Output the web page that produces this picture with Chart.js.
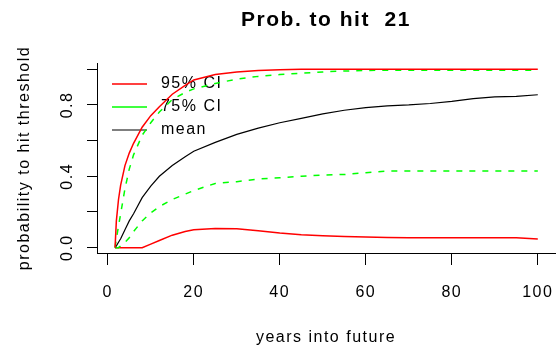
<!DOCTYPE html>
<html>
<head>
<meta charset="utf-8">
<script src="https://cdn.jsdelivr.net/npm/chart.js@4/dist/chart.umd.min.js"></script>
<style>
  html, body { margin: 0; padding: 0; background: #fff; }
  #wrap { width: 558px; height: 352px; position: relative; }
</style>
</head>
<body>
<div id="wrap"><canvas id="probChart"></canvas></div>
<script>
// years into the future (x) and the curves
const years = [1.7, 2, 2.5, 3, 4, 5, 6, 8, 10, 12, 15, 18, 20, 25, 30, 35, 40, 45, 50, 55, 60, 65, 70, 75, 80, 85, 90, 95, 100];

const upper95 = [0, 0.15, 0.27, 0.35, 0.46, 0.53, 0.585, 0.675, 0.74, 0.79, 0.86, 0.91, 0.94, 0.97, 0.985, 0.993, 0.997, 1, 1, 1, 1, 1, 1, 1, 1, 1, 1, 1, 1];
const upper75 = [0, 0.05, 0.12, 0.19, 0.33, 0.44, 0.52, 0.63, 0.70, 0.76, 0.83, 0.87, 0.89, 0.92, 0.945, 0.96, 0.97, 0.978, 0.985, 0.99, 0.993, 0.995, 0.995, 0.995, 0.995, 0.995, 0.995, 0.995, 0.995];
const meanProb = [0, 0.01, 0.03, 0.05, 0.1, 0.15, 0.19, 0.28, 0.345, 0.40, 0.46, 0.51, 0.54, 0.59, 0.635, 0.67, 0.70, 0.725, 0.75, 0.77, 0.785, 0.795, 0.80, 0.808, 0.82, 0.835, 0.845, 0.848, 0.857];
const lower75 = [0, 0, 0, 0.01, 0.03, 0.055, 0.09, 0.15, 0.195, 0.23, 0.27, 0.30, 0.32, 0.36, 0.37, 0.385, 0.392, 0.40, 0.407, 0.41, 0.42, 0.43, 0.43, 0.43, 0.43, 0.43, 0.43, 0.43, 0.43];
const lower95 = [0, 0, 0, 0, 0, 0, 0, 0, 0.02, 0.04, 0.07, 0.09, 0.10, 0.108, 0.106, 0.095, 0.082, 0.072, 0.067, 0.063, 0.06, 0.057, 0.056, 0.056, 0.056, 0.056, 0.056, 0.056, 0.049];

const xTicks = [0, 20, 40, 60, 80, 100];
const yTicks = [0, 0.2, 0.4, 0.6, 0.8, 1.0];
const yLabelled = [0, 0.4, 0.8];   // R only printed every other label

const pts = (ys) => years.map((x, i) => ({ x: x, y: ys[i] }));

const FONT = "'Liberation Sans', Arial, sans-serif";

// R draws its text a bit spread out
const spacing = {
  id: "spacing",
  beforeLayout(chart) { chart.ctx.letterSpacing = "1.5px"; },
  beforeDraw(chart) { chart.ctx.letterSpacing = "1.5px"; },
  afterLayout(chart) {
    // put legend near top-left corner of the plot like legend("topleft")
    const a = chart.chartArea;
    chart.legend.left = a.left + 8;
    chart.legend.top = a.top + 6;
  }
};

const ctx = document.getElementById("probChart").getContext("2d");

new Chart(ctx, {
  type: "line",
  data: {
    datasets: [
      { label: "95% CI", data: pts(upper95), borderColor: "#ff0000", borderWidth: 1.5, inLegend: true },
      { label: "75% CI", data: pts(upper75), borderColor: "#00ff00", borderWidth: 1.5, borderDash: [6, 7], inLegend: true },
      { label: "mean", data: pts(meanProb), borderColor: "#000000", borderWidth: 1.2, inLegend: true },
      { label: "75% CI low", data: pts(lower75), borderColor: "#00ff00", borderWidth: 1.5, borderDash: [6, 7] },
      { label: "95% CI low", data: pts(lower95), borderColor: "#ff0000", borderWidth: 1.5 }
    ]
  },
  options: {
    responsive: true,
    maintainAspectRatio: false,
    animation: false,
    layout: { padding: { left: 0, right: 3, top: 0, bottom: 0 } },
    elements: { point: { radius: 0 }, line: { tension: 0, fill: false } },
    plugins: {
      tooltip: { enabled: false },
      title: {
        display: true,
        text: "Prob. to hit  21",
        fullSize: false,
        color: "#000",
        font: { family: FONT, size: 21, weight: "bold" },
        padding: { top: 7.4, bottom: 30.4 }
      },
      legend: {
        position: "chartArea",
        fullSize: false,
        align: "start",
        labels: {
          usePointStyle: true,
          pointStyle: "line",
          pointStyleWidth: 35,
          padding: 7,
          color: "#000",
          font: { family: FONT, size: 16 },
          filter: (item, data) => data.datasets[item.datasetIndex].inLegend === true,
          generateLabels(chart) {
            const items = Chart.defaults.plugins.legend.labels.generateLabels(chart);
            items.forEach(it => { it.text = " " + it.text; });
            return items;
          }
        }
      }
    },
    scales: {
      x: {
        type: "linear",
        min: -2.5,
        max: 104,
        afterFit(s) {
          s.height = 99;
          s.paddingLeft = 0;
          s.paddingRight = 0;
        },
        afterBuildTicks(s) { s.ticks = xTicks.map(v => ({ value: v })); },
        border: { display: true, color: "#000", width: 1 },
        grid: { drawOnChartArea: false, drawTicks: true, tickLength: 12, tickColor: "#000" },
        ticks: {
          color: "#000",
          padding: 18,
          maxRotation: 0,
          font: { family: FONT, size: 16 },
          callback: (v) => String(v)
        },
        title: {
          display: true,
          text: "years into future",
          color: "#000",
          font: { family: FONT, size: 16 },
          padding: { top: 0, bottom: 4.4 }
        }
      },
      y: {
        min: -0.03,
        max: 1.035,
        afterFit(s) {
          s.width = 97;
          s.paddingTop = 0;
          s.paddingBottom = 0;
        },
        afterBuildTicks(s) { s.ticks = yTicks.map(v => ({ value: v })); },
        border: { display: true, color: "#000", width: 1 },
        grid: { drawOnChartArea: false, drawTicks: true, tickLength: 10, tickColor: "#000" },
        ticks: {
          color: "#000",
          padding: 5.7,
          minRotation: 90,
          maxRotation: 90,
          crossAlign: "center",
          font: { family: FONT, size: 16 },
          callback: (v) => yLabelled.some(l => Math.abs(l - v) < 1e-9) ? v.toFixed(1) : ""
        },
        title: {
          display: true,
          text: "probability to hit threshold",
          color: "#000",
          font: { family: FONT, size: 16 },
          padding: { top: 15, bottom: 0 }
        }
      }
    }
  },
  plugins: [spacing]
});
</script>
</body>
</html>
